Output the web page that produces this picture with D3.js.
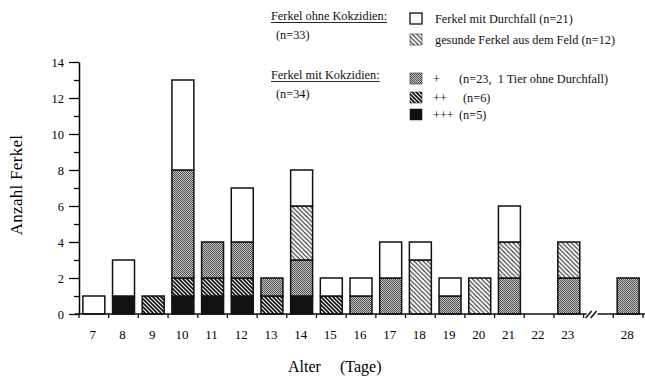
<!DOCTYPE html>
<html>
<head>
<meta charset="utf-8">
<script src="https://cdn.jsdelivr.net/npm/d3@7"></script>
<style>
  body { margin: 0; background: #fff; }
  svg { font-family: "Liberation Serif", "DejaVu Serif", serif; }
</style>
</head>
<body>
<div id="chart"></div>
<script>
// Alter in Tagen; "gap" steht fuer den Achsenbruch zwischen 23 und 28
const categories = ['7', '8', '9', '10', '11', '12', '13', '14', '15', '16', '17', '18', '19', '20', '21', '22', '23', 'gap', '28'];

// Serien von unten nach oben
const sehrStark = [0, 1, 0, 1, 1, 1, 0, 1, 0, 0, 0, 0, 0, 0, 0, 0, 0, 0, 0];   // +++
const stark     = [0, 0, 1, 1, 1, 1, 1, 0, 1, 0, 0, 0, 0, 0, 0, 0, 0, 0, 0];   // ++
const leicht    = [0, 0, 0, 6, 2, 2, 1, 2, 0, 1, 2, 0, 1, 0, 2, 0, 2, 0, 2];   // +
const gesund    = [0, 0, 0, 0, 0, 0, 0, 3, 0, 0, 0, 3, 0, 2, 2, 0, 2, 0, 0];
const durchfall = [1, 2, 0, 5, 0, 3, 0, 2, 1, 1, 2, 1, 1, 0, 2, 0, 0, 0, 0];

const yTicks = [0, 2, 4, 6, 8, 10, 12, 14];

const keys = ['sehrStark', 'stark', 'leicht', 'gesund', 'durchfall'];
const fills = {
  sehrStark: '#111',
  stark: 'url(#hatchDark)',
  leicht: 'url(#dots)',
  gesund: 'url(#hatchLight)',
  durchfall: '#fff'
};

const table = categories.map((c, i) => ({
  cat: c,
  sehrStark: sehrStark[i],
  stark: stark[i],
  leicht: leicht[i],
  gesund: gesund[i],
  durchfall: durchfall[i]
}));

const width = 645, height = 378;
const margin = {top: 62, right: 2, bottom: 64, left: 79};

const svg = d3.select('#chart').append('svg')
  .attr('width', width)
  .attr('height', height);

// Muster
const defs = svg.append('defs');
let p = defs.append('pattern').attr('id', 'dots')
  .attr('patternUnits', 'userSpaceOnUse').attr('width', 2).attr('height', 2);
p.append('rect').attr('width', 2).attr('height', 2).attr('fill', '#c8c8c8');
p.append('rect').attr('width', 1).attr('height', 1).attr('fill', '#444');
p.append('rect').attr('x', 1).attr('y', 1).attr('width', 1).attr('height', 1).attr('fill', '#555');

p = defs.append('pattern').attr('id', 'hatchDark')
  .attr('patternUnits', 'userSpaceOnUse').attr('width', 4).attr('height', 4);
p.append('rect').attr('width', 4).attr('height', 4).attr('fill', '#fff');
p.append('path').attr('d', 'M-1,-1 L5,5 M3,-1 L5,1 M-1,3 L1,5')
  .attr('stroke', '#111').attr('stroke-width', 1.7);

p = defs.append('pattern').attr('id', 'hatchLight')
  .attr('patternUnits', 'userSpaceOnUse').attr('width', 4.5).attr('height', 4.5);
p.append('rect').attr('width', 4.5).attr('height', 4.5).attr('fill', '#fff');
p.append('path').attr('d', 'M-1,-1 L5.5,5.5 M3.5,-1 L5.5,1 M-1,3.5 L1,5.5')
  .attr('stroke', '#222').attr('stroke-width', 1.1);

const x = d3.scaleBand()
  .domain(categories)
  .range([margin.left, width - margin.right])
  .padding(0);

const y = d3.scaleLinear()
  .domain([0, 14])
  .range([height - margin.bottom, margin.top]);

const barW = x.bandwidth() * 0.74;
const stacked = d3.stack().keys(keys)(table);

svg.append('g').selectAll('g')
  .data(stacked)
  .enter().append('g')
  .attr('fill', d => fills[d.key])
  .selectAll('rect')
  .data(d => d.filter(s => s[1] - s[0] > 0))
  .enter().append('rect')
  .attr('x', d => x(d.data.cat) + (x.bandwidth() - barW) / 2)
  .attr('width', barW)
  .attr('y', d => y(d[1]))
  .attr('height', d => y(d[0]) - y(d[1]))
  .attr('stroke', '#111')
  .attr('stroke-width', 1.5);

// y-Achse
const yAxis = svg.append('g')
  .attr('transform', 'translate(' + margin.left + ',0)')
  .call(d3.axisLeft(y).tickValues(yTicks).tickSize(10).tickSizeOuter(0).tickPadding(5));
yAxis.select('.domain').attr('stroke-width', 1.5);
yAxis.selectAll('.tick line').attr('stroke-width', 1.3);
yAxis.selectAll('text').attr('font-size', 12.5).attr('font-family', 'Liberation Serif');
svg.append('g')
  .attr('transform', 'translate(' + margin.left + ',0)')
  .call(d3.axisLeft(y).tickValues(d3.range(1, 14, 2)).tickSize(5).tickFormat(''))
  .call(g => g.select('.domain').remove())
  .selectAll('line').attr('stroke-width', 1.3);

// x-Achse mit Bruch
const base = y(0);
const gapStart = x('gap');
const xg = svg.append('g').attr('stroke', '#111').attr('stroke-width', 1.5);
xg.append('line').attr('x1', margin.left - 4).attr('x2', gapStart + 3).attr('y1', base).attr('y2', base);
xg.append('line').attr('x1', gapStart + 14).attr('x2', width).attr('y1', base).attr('y2', base);
[0, 5].forEach(o => {
  xg.append('line')
    .attr('x1', gapStart + 2 + o).attr('y1', base + 4)
    .attr('x2', gapStart + 8 + o).attr('y2', base - 3);
});
const edges = categories.filter(c => c !== 'gap').map(c => x(c));
edges.push(x('23') + x.bandwidth(), x('28') + x.bandwidth());
xg.selectAll('.edge')
  .data(edges)
  .enter().append('line')
  .attr('x1', d => d).attr('x2', d => d)
  .attr('y1', base).attr('y2', base + 4)
  .attr('stroke-width', 1.3);

svg.append('g').selectAll('text')
  .data(categories.filter(c => c !== 'gap'))
  .enter().append('text')
  .attr('x', d => x(d) + x.bandwidth() / 2 - 1)
  .attr('y', base + 25)
  .attr('text-anchor', 'middle')
  .attr('font-size', 13)
  .text(d => d);

// Achsentitel
svg.append('text')
  .attr('transform', 'translate(22,185) rotate(-90)')
  .attr('text-anchor', 'middle')
  .attr('font-size', 17)
  .attr('letter-spacing', 0.3)
  .text('Anzahl Ferkel');

svg.append('text').attr('x', 288).attr('y', 372).attr('font-size', 16).text('Alter');
svg.append('text').attr('x', 340).attr('y', 372).attr('font-size', 16).text('(Tage)');

// Legende
const legend = svg.append('g').attr('font-size', 12.3).attr('fill', '#111');
const heads = [
  {t: 'Ferkel ohne Kokzidien:', n: '(n=33)', y: 20},
  {t: 'Ferkel mit Kokzidien:', n: '(n=34)', y: 79}
];
heads.forEach(h => {
  const t = legend.append('text').attr('x', 271).attr('y', h.y).text(h.t);
  const w = t.node().getComputedTextLength();
  legend.append('line').attr('x1', 271).attr('x2', 271 + w)
    .attr('y1', h.y + 2.5).attr('y2', h.y + 2.5).attr('stroke', '#111').attr('stroke-width', 0.9);
  legend.append('text').attr('x', 276).attr('y', h.y + 19).text(h.n);
});

const items = [
  {key: 'durchfall', y: 13, a: 'Ferkel mit Durchfall (n=21)', ax: 435},
  {key: 'gesund', y: 34, a: 'gesunde Ferkel aus dem Feld (n=12)', ax: 435},
  {key: 'leicht', y: 73, a: '+', ax: 433, b: '(n=23,  1 Tier ohne Durchfall)', bx: 459},
  {key: 'stark', y: 92, a: '++', ax: 433, b: '(n=6)', bx: 463},
  {key: 'sehrStark', y: 109, a: '+++', ax: 433, b: '(n=5)', bx: 459}
];
items.forEach(it => {
  legend.append('rect').attr('x', 410).attr('y', it.y).attr('width', 12).attr('height', 11)
    .attr('fill', fills[it.key]).attr('stroke', '#111').attr('stroke-width', it.key === 'durchfall' ? 1.3 : 0.5);
  legend.append('text').attr('x', it.ax).attr('y', it.y + 9.5).text(it.a);
  if (it.b) legend.append('text').attr('x', it.bx).attr('y', it.y + 9.5).style('white-space', 'pre').text(it.b);
});
</script>
</body>
</html>
